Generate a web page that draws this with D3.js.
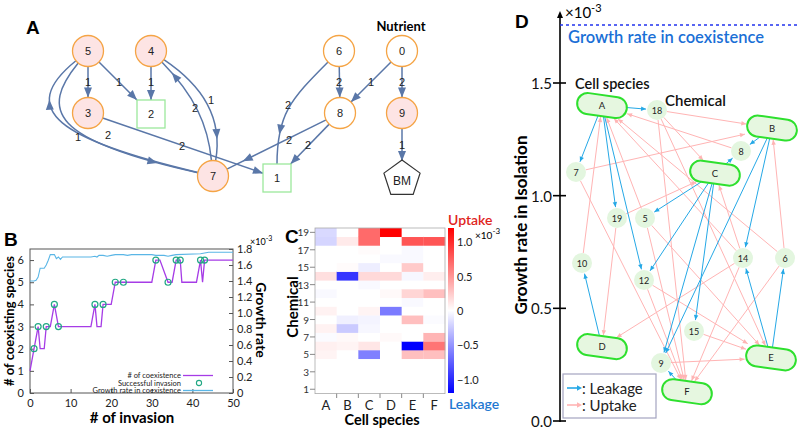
<!DOCTYPE html>
<html><head><meta charset="utf-8">
<script src="https://cdn.jsdelivr.net/npm/d3@7"></script>
<style>body{margin:0;background:#fff;} svg{display:block;font-family:Lato,"Open Sans",sans-serif;}</style>
</head><body><svg id="c" width="800" height="430"></svg>
<script>
// ================= DATA =================
// Panel A: metabolic network
const aNodes = ["5","4","3","2","7","1","6","0","8","9","BM"];
const aNodeType = ["pink","pink","pink","square","pink","square","open","open","open","pink","bm"];
const aEdges = [["5","3",1],["5","2",1],["4","2",1],["4","7",1],["7","4",2],["5","7",2],["7","5",1],
  ["3","1",2],["6","8",2],["0","8",1],["0","9",2],["9","BM",1],["6","1",2],["8","7",2],["8","1",2]];

// Panel B: invasion history
const stepX   = [0,1,2,2.5,3.5,4,5,6,7,15,16,16.5,17.5,18,20,21,23,30,31,32,34,35,36,37,37.4,41,42,42.5,43,50];
const coexist = [1,2,3,2,2,3,3,4,3,3,4,3,3,4,4,5,5,5,6,6,5,5,6,6,5,5,6,5,6,6];
const invasionX = [1,2,4,6,7,16,18,21,23,31,34,36,37,42,43];
const invasionY = [2,3,3,4,3,4,4,5,5,6,5,6,6,6,6];
const growthX = [0,1,1.5,2,2.5,3.5,4,4.5,5,6,6.5,7,7.5,8,10,15,16,16.5,17,18,19,20,21,23,24,25,30,31,33,34,35,36,42,43,44,50];
const growthY = [1.40,1.40,1.41,1.45,1.56,1.56,1.60,1.66,1.73,1.73,1.68,1.70,1.67,1.70,1.70,1.70,1.71,1.70,1.72,1.72,1.71,1.72,1.73,1.73,1.72,1.73,1.73,1.72,1.72,1.71,1.72,1.73,1.74,1.75,1.76,1.76];
const bLeftTicks = [0,1,2,3,4,5,6];
const bRightTicks = [0,0.2,0.4,0.6,0.8,1.0,1.2,1.4,1.6,1.8];
const bXTicks = [0,10,20,30,40,50];

// Panel C: heatmap (chemical 1..19), x10^-3
const species = ["A","B","C","D","E","F"];
const chemicals = d3.range(1,20);
const heatA = [0,0,0,0,0.05,0.07,-0.02,0.06,0,0.06,0,-0.03,0,0.15,0,0,0,-0.2,-0.18];
const heatB = [0,0,0,0,0,0.05,0.03,-0.25,-0.07,0,0,0,0,-0.95,0.02,0,0,0.1,0];
const heatC = [0,0,0,0,-0.6,0.12,0,-0.04,-0.05,0.05,0,0,-0.03,0.18,-0.08,0,0.02,0.7,0.7];
const heatD = [0,0,0,0,0,0,0.03,0,0,-0.62,0,0.03,0,0.18,0,-0.03,0,0,1.2];
const heatE = [0,0,0,0,0.3,-1.2,0,0,0.3,0,-0.03,0.2,0,-0.04,0.25,-0.03,-0.03,0.8,0];
const heatF = [0,0,0,0,0.3,0.65,0.35,0,-0.02,0,0,0.3,0,0.08,0,0,0,0.8,0];
const cbTicks = [-1.0,-0.5,0,0.5,1.0];

// Panel D: interaction network
const isoGrowth = [1.40,1.30,1.10,0.33,0.28,0.13];   // species A..F
const coexGrowth = 1.757;
const dTicks = [0,0.5,1.0,1.5];
const chemNodes = ["18","8","7","19","5","10","12","14","6","15","9"];
const leakEdges = [["A","18"],["A","7"],["A","19"],["A","12"],["B","8"],["B","14"],["B","9"],
  ["C","8"],["C","5"],["C","12"],["C","15"],["C","9"],["D","10"],["E","14"],["E","6"],["F","9"]];
const uptakeEdges = [["18","B"],["18","C"],["18","E"],["18","F"],["19","C"],["19","D"],["15","E"],
  ["14","A"],["14","C"],["14","D"],["14","F"],["12","E"],["12","F"],["10","A"],["9","E"],["8","A"],
  ["7","B"],["7","F"],["6","A"],["6","B"],["6","F"],["5","E"],["5","F"],["5","A"]];

// ================= LAYOUT (positions only) =================
const aPos = {"5":[88,51],"4":[151,51],"3":[88,113],"2":[151,114],"7":[213,176],"1":[277,178],
  "6":[339,51],"0":[402,51],"8":[340,113],"9":[402,113],"BM":[402,179]};
const aCurve = {"4-7":[[203,86],[223,118]],"7-4":[[208,125],[195,96]],"5-7":[[40,110],[50,140]],
  "7-5":[[60,140],[15,110]],"6-1":[[290,100],[277,115]]};
const aArrowAt = {"4-7":0.82,"7-4":0.87,"5-7":0.8,"7-5":0.78,"6-1":0.75,"8-7":0.84};
const aLabelPos = {"5-3":[88,82],"5-2":[119,82],"4-2":[151,82],"4-7":[211,100],"7-4":[195,108],
  "5-7":[108,135],"7-5":[78,137],"3-1":[182,146],"6-8":[339,82],"0-8":[371,82],"0-9":[402,82],
  "9-BM":[402,145],"6-1":[288,105],"8-7":[289,140],"8-1":[308,145]};
const spX = [602,772,715,602,771,687];
const chemPos = {"18":[657,110],"8":[741,151],"7":[576,172],"19":[617,218],"5":[645,218],"10":[582,263],
  "12":[644,280],"14":[743,258],"6":[785,258],"15":[694,331],"9":[661,363]};

// ================= DRAW =================
const svg = d3.select("#c");
function arrowHead(g, tip, ang, len, wid, col){
  const c=Math.cos(ang), s=Math.sin(ang);
  const bx=tip[0]-len*c, by=tip[1]-len*s;
  const p=[[tip[0],tip[1]],[bx+wid*s,by-wid*c],[bx-wid*s,by+wid*c]];
  g.append("path").attr("d","M"+p.map(q=>q.join(",")).join("L")+"Z").attr("fill",col);
}
function panelLetter(t,x,y){svg.append("text").attr("x",x).attr("y",y).text(t)
  .attr("font-family","Liberation Sans, Arial, sans-serif").attr("font-weight","bold").attr("font-size",19);}

// ---------- Panel A ----------
const gA = svg.append("g");
const aCol = "#5a77a8";
function aBoundary(id, toward){
  const p=aPos[id]; const t=aNodeType[aNodes.indexOf(id)];
  let dx=toward[0]-p[0], dy=toward[1]-p[1]; const L=Math.hypot(dx,dy); dx/=L; dy/=L;
  if(t==="square"){const h=14; const k=Math.min(h/Math.abs(dx||1e-9),h/Math.abs(dy||1e-9)); return [p[0]+dx*k,p[1]+dy*k];}
  if(t==="bm"){return [p[0]+dx*18,p[1]+dy*18];}
  return [p[0]+dx*15.5,p[1]+dy*15.5];
}
aEdges.forEach(e=>{
  const key=e[0]+"-"+e[1];
  let d;
  if(aCurve[key]){
    const c=aCurve[key]; const s=aBoundary(e[0],c[0]); const t=aBoundary(e[1],c[1]);
    d=`M${s}C${c[0]} ${c[1]} ${t}`;
  } else {
    const s=aBoundary(e[0],aPos[e[1]]); const t=aBoundary(e[1],aPos[e[0]]);
    d=`M${s}L${t}`;
  }
  const path=gA.append("path").attr("d",d).attr("fill","none").attr("stroke",aCol).attr("stroke-width",1.5);
  const node=path.node(); const L=node.getTotalLength(); const f=aArrowAt[key]||1;
  const tip=node.getPointAtLength(L*f); const back=node.getPointAtLength(Math.max(0,L*f-2));
  arrowHead(gA,[tip.x,tip.y],Math.atan2(tip.y-back.y,tip.x-back.x),10,4,aCol);
  const lp=aLabelPos[key];
  gA.append("text").attr("x",lp[0]).attr("y",lp[1]).attr("text-anchor","middle").attr("dominant-baseline","central")
    .attr("font-family","Liberation Sans, Arial, sans-serif").attr("font-size",11).attr("fill","#222").text(e[2]);
});
aNodes.forEach((id,i)=>{
  const p=aPos[id], t=aNodeType[i];
  if(t==="square") gA.append("rect").attr("x",p[0]-14).attr("y",p[1]-14).attr("width",28).attr("height",28)
      .attr("fill","#fff").attr("stroke","#9ce89c").attr("stroke-width",1.3);
  else if(t==="bm"){
    const pts=d3.range(5).map(k=>{const a=-Math.PI/2+k*2*Math.PI/5;return [p[0]+19*Math.cos(a),p[1]+19*Math.sin(a)];});
    gA.append("path").attr("d","M"+pts.join("L")+"Z").attr("fill","#fff").attr("stroke","#333").attr("stroke-width",1.2);
  } else gA.append("circle").attr("cx",p[0]).attr("cy",p[1]).attr("r",15.5)
      .attr("fill",t==="pink"?"#fde4e4":"#fff").attr("stroke","#f5a445").attr("stroke-width",1.3);
  gA.append("text").attr("x",p[0]).attr("y",p[1]+(t==="bm"?2:0)).attr("text-anchor","middle").attr("dominant-baseline","central")
    .attr("font-family","Liberation Sans, Arial, sans-serif").attr("font-size",t==="bm"?12:11).attr("fill","#222").text(id);
});
gA.append("text").attr("x",401).attr("y",31).attr("text-anchor","middle").attr("font-weight","bold").attr("font-size",13).text("Nutrient");
panelLetter("A",26,34);

// ---------- Panel B ----------
const gB = svg.append("g");
const xB=d3.scaleLinear().domain([0,50]).range([30,233]);
const yB=d3.scaleLinear().domain([0,6.5]).range([393,249]);
const y2B=d3.scaleLinear().domain([0,1.8]).range([393,249]);
gB.append("rect").attr("x",30).attr("y",249).attr("width",203).attr("height",144).attr("fill","none").attr("stroke","#555").attr("stroke-width",1);
const axB=gB.append("g").attr("transform","translate(0,393)").call(d3.axisBottom(xB).tickValues(bXTicks).tickSize(-4).tickPadding(6));
const ayB=gB.append("g").attr("transform","translate(30,0)").call(d3.axisLeft(yB).tickValues(bLeftTicks).tickSize(-4).tickPadding(6).tickFormat(d3.format("d")));
const ay2B=gB.append("g").attr("transform","translate(233,0)").call(d3.axisRight(y2B).tickValues(bRightTicks).tickSize(-4).tickPadding(4).tickFormat(d=>d===0?"0":d3.format(".1f")(d)));
[axB,ayB,ay2B].forEach(a=>{a.select(".domain").remove();a.selectAll("line").attr("stroke","#555");
  a.selectAll("text").attr("font-size",11).attr("font-family","Lato, sans-serif").attr("fill","#222");});
gB.append("path").datum(d3.zip(growthX,growthY)).attr("fill","none").attr("stroke","#5ab6e6").attr("stroke-width",1.1)
  .attr("d",d3.line().x(d=>xB(d[0])).y(d=>y2B(d[1])));
gB.append("path").datum(d3.zip(stepX,coexist)).attr("fill","none").attr("stroke","#a63ce6").attr("stroke-width",1.3)
  .attr("d",d3.line().x(d=>xB(d[0])).y(d=>yB(d[1])));
gB.selectAll("circle.inv").data(d3.zip(invasionX,invasionY)).join("circle").attr("class","inv")
  .attr("cx",d=>xB(d[0])).attr("cy",d=>yB(d[1])).attr("r",3).attr("fill","none").attr("stroke","#22a884").attr("stroke-width",1.2);
const lgB=[["# of coexistence","line","#a63ce6"],["Successful invasion","circ","#22a884"],["Growth rate in coexistence","line","#5ab6e6"]];
lgB.forEach((l,i)=>{const y=375.5+i*7.5;
  gB.append("text").attr("x",181).attr("y",y).attr("text-anchor","end").attr("dominant-baseline","central").attr("font-size",7.5).attr("fill","#222").text(l[0]);
  if(l[1]==="line") gB.append("line").attr("x1",183).attr("x2",213).attr("y1",y).attr("y2",y).attr("stroke",l[2]).attr("stroke-width",1.3);
  else gB.append("circle").attr("cx",199).attr("cy",y).attr("r",2.6).attr("fill","none").attr("stroke",l[2]).attr("stroke-width",1.1);
});
gB.append("text").attr("x",132).attr("y",423).attr("text-anchor","middle").attr("font-weight","bold").attr("font-size",15).text("# of invasion");
gB.append("text").attr("transform","translate(14,321) rotate(-90)").attr("text-anchor","middle").attr("font-weight","bold").attr("font-size",13).text("# of coexisting species");
gB.append("text").attr("transform","translate(256,320) rotate(90)").attr("text-anchor","middle").attr("font-weight","bold").attr("font-size",14).text("Growth rate");
gB.append("text").attr("x",250).attr("y",245).attr("font-size",9).html('×10<tspan baseline-shift="super" font-size="7">-3</tspan>');
panelLetter("B",4,246);

// ---------- Panel C ----------
const gC = svg.append("g");
const heat=[heatA,heatB,heatC,heatD,heatE,heatF];
const xC=d3.scaleBand().domain(species).range([315,445]);
const yC=d3.scaleBand().domain(chemicals.slice().reverse()).range([228,393.6]);
const colC=d3.scaleLinear().domain([-1.2,0,1.2]).range(["#0000ff","#ffffff","#ff0000"]);
const cells=[];
species.forEach((s,i)=>chemicals.forEach((c,j)=>cells.push({s,c,v:heat[i][j]})));
gC.selectAll("rect.cell").data(cells).join("rect").attr("class","cell")
  .attr("x",d=>xC(d.s)).attr("y",d=>yC(d.c)).attr("width",xC.bandwidth()+0.3).attr("height",yC.bandwidth()+0.3)
  .attr("fill",d=>colC(d.v));
gC.append("rect").attr("x",315).attr("y",228).attr("width",130).attr("height",165.6).attr("fill","none").attr("stroke","#aaa").attr("stroke-width",0.8);
chemicals.filter(c=>c%2===1).forEach(c=>{const y=yC(c)+yC.bandwidth()/2;
  gC.append("line").attr("x1",310).attr("x2",315).attr("y1",y).attr("y2",y).attr("stroke","#888");
  gC.append("text").attr("x",309).attr("y",y).attr("text-anchor","end").attr("dominant-baseline","central").attr("font-size",10).attr("fill","#333").text(c);});
species.slice(1).forEach(s=>gC.append("line").attr("x1",xC(s)).attr("x2",xC(s)).attr("y1",393.6).attr("y2",398).attr("stroke","#888"));
species.forEach(s=>gC.append("text").attr("x",xC(s)+xC.bandwidth()/2).attr("y",409.5).attr("text-anchor","middle").attr("font-size",13).attr("fill","#222").text(s));
gC.append("text").attr("x",382).attr("y",425).attr("text-anchor","middle").attr("font-weight","bold").attr("font-size",14.5).text("Cell species");
gC.append("text").attr("transform","translate(298,307) rotate(-90)").attr("text-anchor","middle").attr("font-weight","bold").attr("font-size",15).text("Chemical");
const grad=svg.append("defs").append("linearGradient").attr("id","cb").attr("x1",0).attr("x2",0).attr("y1",1).attr("y2",0);
[[0,"#0000ff"],[0.5,"#ffffff"],[1,"#ff0000"]].forEach(s=>grad.append("stop").attr("offset",s[0]).attr("stop-color",s[1]));
const yCB=d3.scaleLinear().domain([-1.2,1.2]).range([393,228]);
gC.append("rect").attr("x",448).attr("y",228).attr("width",6).attr("height",165).attr("fill","url(#cb)");
cbTicks.forEach(t=>gC.append("text").attr("x",457).attr("y",yCB(t)).attr("dominant-baseline","central").attr("font-size",11).attr("fill","#222")
  .text(t===0?"0":d3.format(".1f")(t)));
gC.append("text").attr("x",475).attr("y",239).attr("font-size",10).html('×10<tspan baseline-shift="super" font-size="8">-3</tspan>');
gC.append("text").attr("x",448).attr("y",225).attr("font-size",14).attr("font-weight",600).attr("fill","#e0241c").text("Uptake");
gC.append("text").attr("x",449).attr("y",409).attr("font-size",14).attr("font-weight",600).attr("fill","#1f78d1").text("Leakage");
panelLetter("C",285,243);

// ---------- Panel D ----------
const gD = svg.append("g");
const yD=d3.scaleLinear().domain([0,1.5]).range([421,83]);
const axX=560;
gD.append("line").attr("x1",axX).attr("x2",axX).attr("y1",422).attr("y2",16).attr("stroke","#000").attr("stroke-width",1.6);
arrowHead(gD,[axX,11],-Math.PI/2,7,3,"#000");
dTicks.forEach(t=>{gD.append("line").attr("x1",axX-7).attr("x2",axX+6).attr("y1",yD(t)).attr("y2",yD(t)).attr("stroke","#000").attr("stroke-width",1.6);
  gD.append("text").attr("x",axX-8).attr("y",yD(t)).attr("text-anchor","end").attr("dominant-baseline","central").attr("font-size",15).attr("fill","#111").text(d3.format(".1f")(t));});
gD.append("text").attr("x",565).attr("y",18).attr("font-size",15).html('×10<tspan baseline-shift="super" font-size="11">-3</tspan>');
gD.append("line").attr("x1",axX).attr("x2",800).attr("y1",yD(coexGrowth)).attr("y2",yD(coexGrowth)).attr("stroke","#2233ee").attr("stroke-width",1.5).attr("stroke-dasharray","3,3");
gD.append("text").attr("x",568).attr("y",43).attr("font-size",16.5).attr("font-weight",600).attr("fill","#1a6fd6").text("Growth rate in coexistence");
gD.append("text").attr("transform","translate(527,225) rotate(-90)").attr("text-anchor","middle").attr("font-weight","bold").attr("font-size",17).text("Growth rate in Isolation");
gD.append("text").attr("x",575).attr("y",89).attr("font-size",14.5).attr("font-weight",600).attr("fill","#111").text("Cell species");
gD.append("text").attr("x",665).attr("y",106).attr("font-size",15).attr("font-weight",600).attr("fill","#111").text("Chemical");

const rot=8*Math.PI/180, hw=25, hh=10.5;
const nodePos=(id)=>{const i=species.indexOf(id); return i>=0?[spX[i],yD(isoGrowth[i])]:chemPos[id];};
function dBoundary(id,toward,pad){
  const p=nodePos(id); let dx=toward[0]-p[0], dy=toward[1]-p[1]; const L=Math.hypot(dx,dy); dx/=L; dy/=L;
  if(species.includes(id)){
    const lx=dx*Math.cos(rot)+dy*Math.sin(rot), ly=-dx*Math.sin(rot)+dy*Math.cos(rot);
    const k=Math.min(hw/Math.abs(lx||1e-9),hh/Math.abs(ly||1e-9))+pad; return [p[0]+dx*k,p[1]+dy*k];
  }
  return [p[0]+dx*(10+pad),p[1]+dy*(10+pad)];
}
function dEdge(e,col){
  const s=dBoundary(e[0],nodePos(e[1]),0), t=dBoundary(e[1],nodePos(e[0]),1);
  gD.append("line").attr("x1",s[0]).attr("y1",s[1]).attr("x2",t[0]).attr("y2",t[1]).attr("stroke",col).attr("stroke-width",1);
  arrowHead(gD,t,Math.atan2(t[1]-s[1],t[0]-s[0]),5,2.2,col);
}
const upCol="#ffb4b4", lkCol="#25a8e6";
uptakeEdges.forEach(e=>dEdge(e,upCol));
leakEdges.forEach(e=>dEdge(e,lkCol));
chemNodes.forEach(c=>{const p=chemPos[c];
  gD.append("circle").attr("cx",p[0]).attr("cy",p[1]).attr("r",10).attr("fill","#e3f6df");
  gD.append("text").attr("x",p[0]).attr("y",p[1]).attr("text-anchor","middle").attr("dominant-baseline","central").attr("font-size",9).attr("fill","#222").text(c);});
species.forEach((s,i)=>{const p=nodePos(s);
  const g=gD.append("g").attr("transform",`translate(${p[0]},${p[1]}) rotate(8)`);
  g.append("rect").attr("x",-hw).attr("y",-hh).attr("width",2*hw).attr("height",2*hh).attr("rx",hh).attr("fill","#e6f7e0").attr("stroke","#2ee02e").attr("stroke-width",2);
  gD.append("text").attr("x",p[0]).attr("y",p[1]).attr("text-anchor","middle").attr("dominant-baseline","central").attr("font-size",9.5).attr("fill","#222").text(s);});
gD.append("rect").attr("x",563).attr("y",374).attr("width",93).attr("height",44).attr("fill","#fff").attr("stroke","#a4a4c0").attr("stroke-width",1.2);
[[lkCol,": Leakage",388],[upCol,": Uptake",405]].forEach(l=>{
  gD.append("line").attr("x1",567).attr("x2",578).attr("y1",l[2]).attr("y2",l[2]).attr("stroke",l[0]).attr("stroke-width",1.6);
  arrowHead(gD,[582,l[2]],0,5,2.8,l[0]);
  gD.append("text").attr("x",582).attr("y",l[2]).attr("dominant-baseline","central").attr("font-size",15).attr("fill","#222").text(l[1]);});
panelLetter("D",515,28);
</script></body></html>
